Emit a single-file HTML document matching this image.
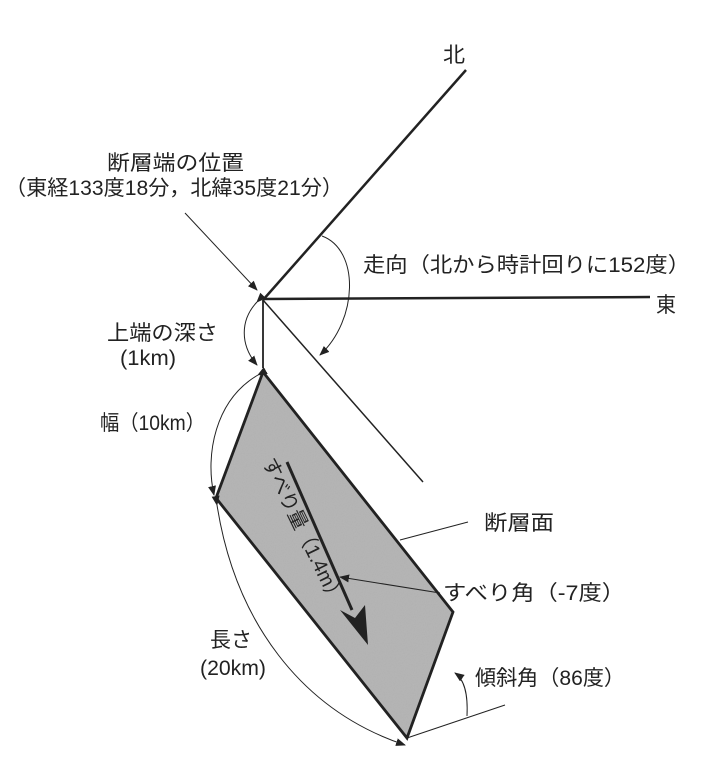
<!DOCTYPE html>
<html><head><meta charset="utf-8"><style>
html,body{margin:0;padding:0;background:#fff;}
svg{display:block;}
text{font-family:"Liberation Sans","Noto Sans CJK JP",sans-serif;font-size:21px;fill:#222;}
</style></head><body>
<svg width="713" height="779" viewBox="0 0 713 779" xmlns="http://www.w3.org/2000/svg">
<defs>
<marker id="a" markerWidth="10" markerHeight="8" refX="9" refY="4" orient="auto" markerUnits="userSpaceOnUse">
<path d="M0,0 L10,4 L0,8 Z" fill="#222"/></marker>
<filter id="n"><feTurbulence type="fractalNoise" baseFrequency="0.9" numOctaves="2"/>
<feColorMatrix type="matrix" values="0 0 0 0 0.5 0 0 0 0 0.5 0 0 0 0 0.5 0 0 0 0.6 0" /></filter>
<clipPath id="c"><polygon points="263,372 453,612 407,738 216,498"/></clipPath>
</defs>
<g stroke="#222" fill="none">
<line x1="263" y1="300" x2="466" y2="70" stroke-width="2.5"/>
<line x1="263" y1="299" x2="650" y2="297" stroke-width="2.5"/>
<line x1="263" y1="300" x2="263" y2="368" stroke-width="1.8"/>
<line x1="263" y1="300" x2="423" y2="482" stroke-width="1.5"/>
<polygon points="263,372 453,612 407,738 216,498" fill="#b0b0b0" stroke="none"/>
<g clip-path="url(#c)"><rect x="210" y="365" width="250" height="380" fill="#fff" filter="url(#n)" stroke="none"/></g>
<polygon points="263,372 453,612 407,738 216,498" stroke-width="2.8"/>
<line x1="287" y1="462" x2="352" y2="610" stroke-width="3"/>
<path d="M340,610 L368,645 L365,605 L355,618 Z" fill="#222" stroke="none"/>
<line x1="185" y1="213" x2="257" y2="290" stroke-width="1" marker-end="url(#a)"/>
<path d="M322,236 C360,250 358,320 320,355" stroke-width="1" marker-end="url(#a)"/>
<path d="M257,302 C240,320 240,345 257,365" stroke-width="1" marker-start="url(#a)" marker-end="url(#a)"/>
<path d="M258,375 C215,400 205,455 214,495" stroke-width="1" marker-start="url(#a)" marker-end="url(#a)"/>
<path d="M217,505 C235,620 300,710 405,745" stroke-width="1" marker-start="url(#a)" marker-end="url(#a)"/>
<line x1="400" y1="540" x2="468" y2="522" stroke-width="1"/>
<line x1="440" y1="593" x2="340" y2="577" stroke-width="1" marker-end="url(#a)"/>
<line x1="407" y1="738" x2="505" y2="705" stroke-width="1"/>
<path d="M467,716 C468,695 465,680 455,673" stroke-width="1" marker-end="url(#a)"/>
</g>
<text x="443" y="62" textLength="22" lengthAdjust="spacingAndGlyphs">北</text>
<text x="107" y="170" textLength="137" lengthAdjust="spacingAndGlyphs">断層端の位置</text>
<text x="5" y="195" textLength="338" lengthAdjust="spacingAndGlyphs">（東経133度18分，北緯35度21分）</text>
<text x="363" y="272" textLength="327" lengthAdjust="spacingAndGlyphs">走向（北から時計回りに152度）</text>
<text x="656" y="312" textLength="20" lengthAdjust="spacingAndGlyphs">東</text>
<text x="107" y="340" textLength="111" lengthAdjust="spacingAndGlyphs">上端の深さ</text>
<text x="120" y="365" textLength="56" lengthAdjust="spacingAndGlyphs">(1km)</text>
<text x="100" y="430" textLength="105" lengthAdjust="spacingAndGlyphs">幅（10km）</text>
<text x="484" y="530" textLength="70" lengthAdjust="spacingAndGlyphs">断層面</text>
<text x="443" y="600" textLength="182" lengthAdjust="spacingAndGlyphs">すべり角（-7度）</text>
<text x="210" y="647" textLength="42" lengthAdjust="spacingAndGlyphs">長さ</text>
<text x="200" y="675" textLength="66" lengthAdjust="spacingAndGlyphs">(20km)</text>
<text x="475" y="685" textLength="150" lengthAdjust="spacingAndGlyphs">傾斜角（86度）</text>
<text transform="translate(262,462) rotate(64)" x="0" y="0" textLength="160" lengthAdjust="spacingAndGlyphs" style="font-size:20px">すべり量（1.4m）</text>
</svg>
</body></html>
